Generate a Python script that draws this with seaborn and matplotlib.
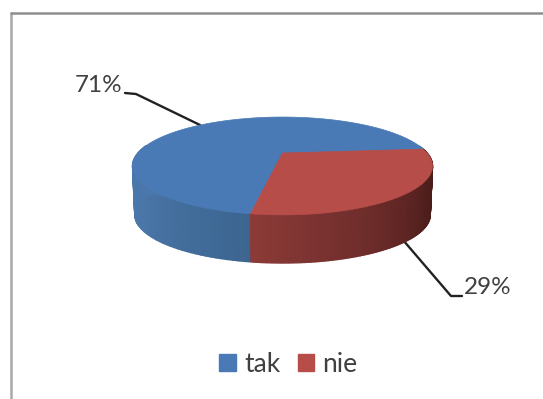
import numpy as np
import matplotlib
matplotlib.use("Agg")
import matplotlib.pyplot as plt
from matplotlib.patches import Patch
import seaborn as sns

# ── Data ──────────────────────────────────────────────
LABELS = ["tak", "nie"]
VALUES = [71, 29]
TOP_COL = ["#4a7ab5", "#b64d49"]
WALL_COL = [["#3c6590", "#4a76a8", "#4a78ac"],
            ["#431a18", "#4f1e1c", "#6e2d2b", "#8b3a37"]]

FIRST_ANGLE = -99.4   # where "tak" starts, going clockwise
TILT = 0.265          # pie plane perspective
DEPTH = 49
STEPS = 140

sns.set_theme(style="white")
plt.rcParams["font.family"] = ["Lato", "DejaVu Sans"]


def project(t, shrink=1.0, drop=0.0):
    """Angle on the pie (degrees) -> pixel position in the picture."""
    u, v = np.cos(np.radians(t)), np.sin(np.radians(t))
    w = 1 + TILT * v
    return 282.5 + shrink * 144.6 * u / w, 153 + drop - shrink * 45.5 * v / w


fig = plt.figure(figsize=(5.43, 3.99), dpi=100)
ax = fig.add_axes([0, 0, 1, 1])
ax.set_xlim(0, 543)
ax.set_ylim(399, 0)
ax.axis("off")

# outer chart frame
ax.plot([10.5, 10.5], [399, 13], color="#a8a8a8", lw=1.8)
ax.plot([10.5, 543], [13, 13], color="#8e8e8e", lw=1.8)

# leader lines
ax.plot([125, 136, 200], [93, 94, 125], color="#222222", lw=1.7, zorder=1)
ax.plot([403, 451, 462], [240, 296, 296], color="#222222", lw=1.7, zorder=1)

# slices: side wall first, top face after
start = FIRST_ANGLE
for val, wall in zip(VALUES, WALL_COL):
    sweep = 360 * val / sum(VALUES)
    t = np.linspace(start, start - sweep, STEPS)
    front = t[((t - 10) % 360 + 10) >= 170]
    pal = sns.blend_palette(wall, n_colors=max(len(front) - 1, 1))
    for a, b, col in zip(front[:-1], front[1:], pal):
        xa, ya = project(a)
        xb, yb = project(b)
        xc, yc = project(b, 0.985, DEPTH)
        xd, yd = project(a, 0.985, DEPTH)
        ax.fill([xa, xb, xc, xd], [ya, yb, yc, yd], color=col, lw=1.0, zorder=2)
    start -= sweep

start = FIRST_ANGLE
for val, top in zip(VALUES, TOP_COL):
    sweep = 360 * val / sum(VALUES)
    t = np.linspace(start, start - sweep, STEPS)
    x, y = project(t)
    ax.fill(np.r_[282.5, x], np.r_[153, y], color=top, lw=0.5, zorder=3)
    start -= sweep

# value labels
ax.text(122, 85, f"{VALUES[0]}%", ha="right", va="center", fontsize=17.5, color="#404040")
ax.text(464, 288, f"{VALUES[1]}%", ha="left", va="center", fontsize=17.5, color="#404040")

handles = [Patch(color=c, label=l) for c, l in zip(TOP_COL, LABELS)]
ax.legend(handles=handles, loc="center", bbox_to_anchor=(288.5 / 543, 1 - 364 / 399),
          ncol=2, frameon=False, fontsize=19, labelcolor="#404040",
          handlelength=0.62, handleheight=0.62, handletextpad=0.32, columnspacing=0.65)

plt.savefig("out.png", dpi=100)
plt.close()
